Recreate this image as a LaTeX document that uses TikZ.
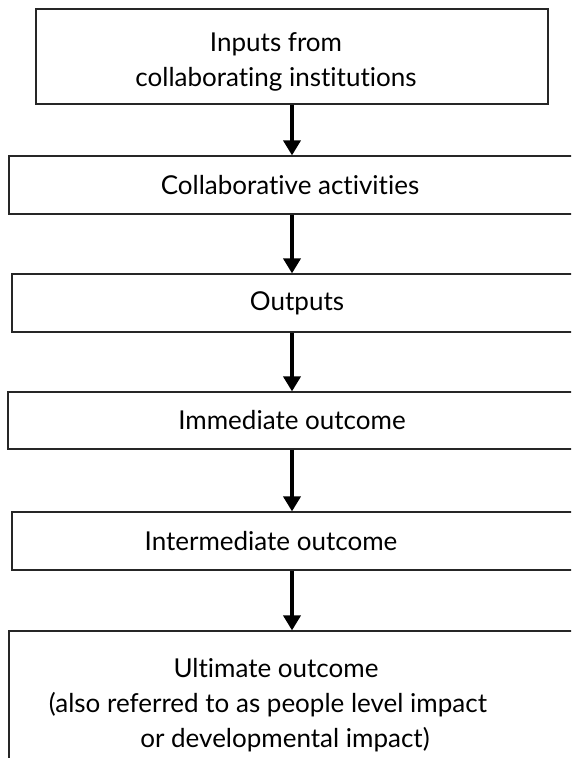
\documentclass[tikz,border=0pt]{standalone}
\usepackage{fontspec}
\setmainfont{Lato}[Ligatures={NoCommon}]
\usetikzlibrary{arrows.meta}

\tikzset{
    stage/.style={draw=black!85, line width=1.2pt, rectangle, inner sep=0pt},
    flow/.style={line width=3.6pt, -{Triangle[width=17pt,length=15pt]}},
    caption/.style={font=\fontsize{26}{35}\selectfont, align=center, inner sep=0pt}
}

\begin{document}
\begin{tikzpicture}[x=1pt,y=-1pt]
    \useasboundingbox (0,0) rectangle (571,758);
    \clip (0,0) rectangle (571,758);
    % frames of the six stages (all but the first run off the right edge)
    \node[stage, minimum width=512pt, minimum height=95pt] (inputs) at (292,56.5) {};
    \node[stage, minimum width=600pt, minimum height=58pt] (activities) at (309,185) {};
    \node[stage, minimum width=600pt, minimum height=58pt] (outputs) at (312,303) {};
    \node[stage, minimum width=600pt, minimum height=57pt] (immediate) at (308,420.5) {};
    \node[stage, minimum width=600pt, minimum height=58pt] (intermediate) at (312,541) {};
    \node[stage, minimum width=600pt, minimum height=200pt] (ultimate) at (309,731) {};
    % texts
    \node[caption] (inputsText) at (276,62) {Inputs from\\collaborating institutions};
    \node[caption] (activitiesText) at (290,185) {Collaborative activities};
    \node[caption] (outputsText) at (297,303) {Outputs};
    \node[caption] (immediateText) at (292,420.5) {Immediate outcome};
    \node[caption] (intermediateText) at (271,541) {Intermediate outcome};
    \node[caption] (ultimateText) at (268,705) {\hspace*{16pt}Ultimate outcome\\
        (also referred to as people level impact\hspace*{10pt}\\
        \hspace*{34pt}or developmental impact)};
    % arrows down the chain
    \foreach \a/\b in {inputs/activities, activities/outputs, outputs/immediate,
        immediate/intermediate, intermediate/ultimate}
        \draw[flow] (inputs.south |- \a.south) -- (inputs.south |- \b.north);
\end{tikzpicture}
\end{document}
